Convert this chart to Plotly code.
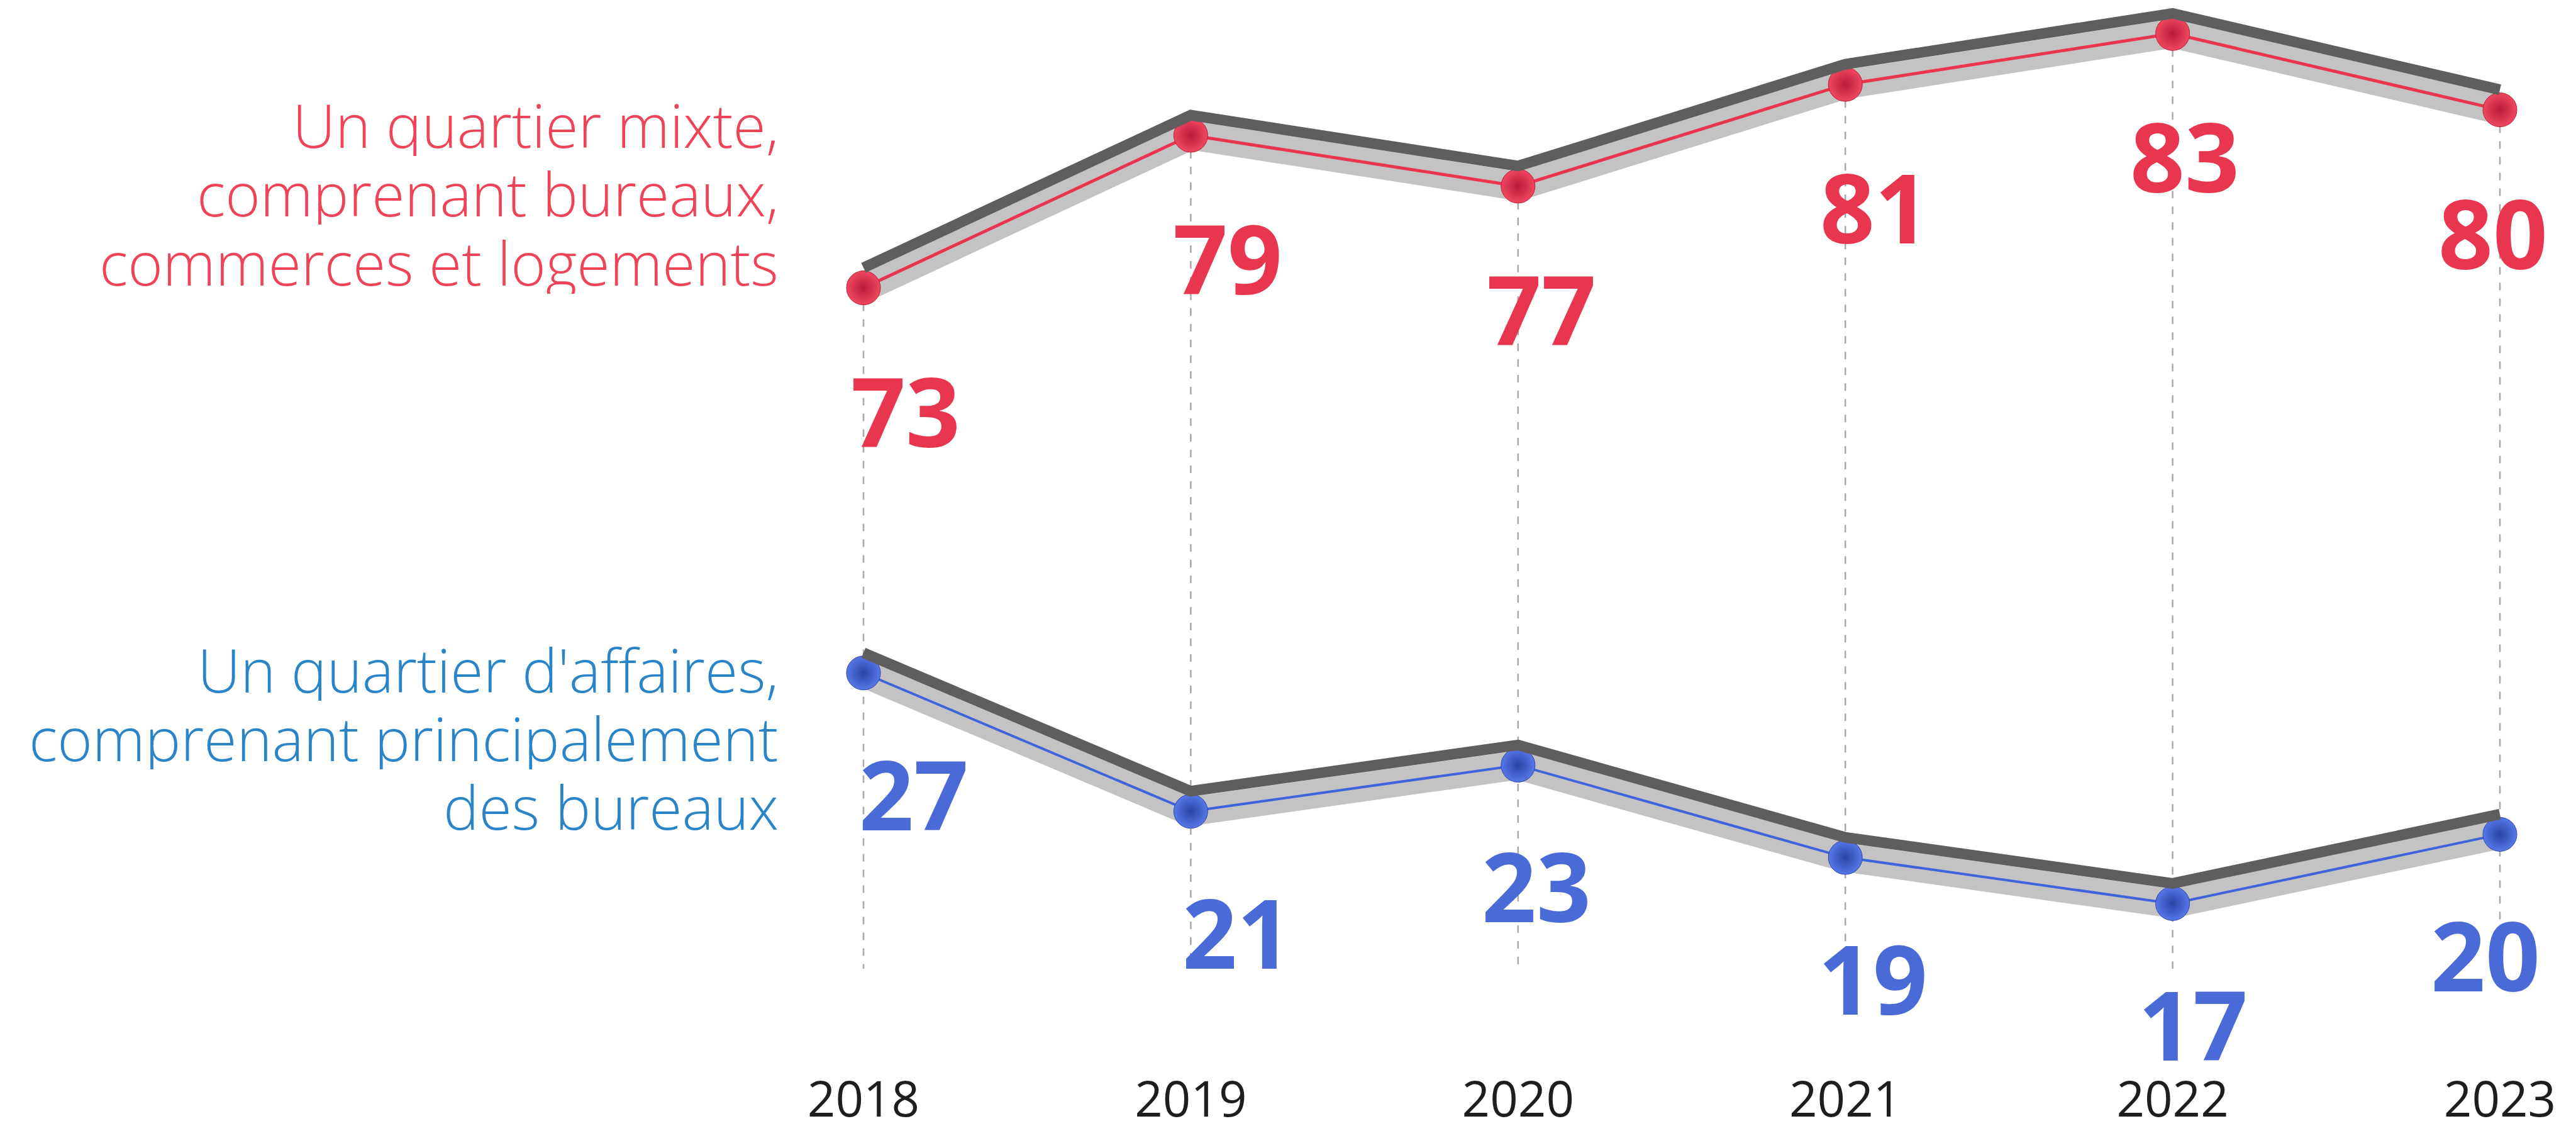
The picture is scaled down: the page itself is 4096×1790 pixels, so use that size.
import plotly.graph_objects as go

# ---------------- data ----------------
years = [2018, 2019, 2020, 2021, 2022, 2023]
year_labels = ["2018", "2019", "2020", "2021", "2022", "2023"]
mixte = [73, 79, 77, 81, 83, 80]
affaires = [27, 21, 23, 19, 17, 20]
label_mixte = ["Un quartier mixte,", "comprenant bureaux,", "commerces et logements"]
label_affaires = ["Un quartier d'affaires,", "comprenant principalement", "des bureaux"]

# ---------------- layout constants ----------------
W, H = 4096, 1790
PLOT_BOTTOM_PX = 1688          # bottom of plotting area (pixels from top)
X_2018_PX, X_STEP_PX = 1365, 520.4

RED_ANCHOR = (80, 166.6, 40.43)     # value, pixel row, pixels per unit
BLUE_ANCHOR = (20, 1318.4, 36.66)
DARK_SHIFT_PX = 32                  # dark top edge of the ribbon, drawn higher
DASH_FLOOR_PX = 1532

RED_TXT = "#EF4458"
BLUE_TXT = "#2A85C8"
RED_NUM = "#E8364F"
BLUE_NUM = "#4A6AD8"
RIB_LIGHT = "#C3C3C3"
RIB_DARK = "#5E5E5E"
FONT = "Open Sans"
NUM_SIZE = 152
LABEL_SIZE = 95

red_num_xshift = [-22, -30, -52, -42, -70, -100]
blue_num_xshift = [-9, -15, -60, -45, -57, -112]
NUM_YSHIFT_RED = -194
NUM_YSHIFT_BLUE = -191


def y_range(anchor, shift_px=0):
    v, px, s = anchor
    px_eff = px - shift_px
    return [v - (PLOT_BOTTOM_PX - px_eff) / s, v + px_eff / s]


def val_at(anchor, px):
    v, p, s = anchor
    return v - (px - p) / s


x_lo = years[0] - X_2018_PX / X_STEP_PX
x_hi = years[0] + (W - X_2018_PX) / X_STEP_PX

fig = go.Figure()

# dashed guides (red value down to floor), drawn on red axis
floor_v = val_at(RED_ANCHOR, DASH_FLOOR_PX)
gx, gy = [], []
for yr, v in zip(years, mixte):
    gx += [yr, yr, None]
    gy += [v, floor_v, None]
fig.add_trace(go.Scatter(x=gx, y=gy, mode="lines", yaxis="y",
                         line=dict(color="#A9A9A9", width=2.5, dash="12px,13px"),
                         hoverinfo="skip", showlegend=False))


def ribbon(vals, main_axis, dark_axis, line_color, m_center, m_edge, line_w):
    fig.add_trace(go.Scatter(x=years, y=vals, mode="lines", yaxis=dark_axis,
                             line=dict(color=RIB_DARK, width=17),
                             hoverinfo="skip", showlegend=False))
    fig.add_trace(go.Scatter(x=years, y=vals, mode="lines", yaxis=main_axis,
                             line=dict(color=RIB_LIGHT, width=46),
                             hoverinfo="skip", showlegend=False))
    fig.add_trace(go.Scatter(x=years, y=vals, mode="lines", yaxis=main_axis,
                             line=dict(color=line_color, width=line_w),
                             hoverinfo="skip", showlegend=False))
    fig.add_trace(go.Scatter(x=years, y=vals, mode="markers", yaxis=main_axis,
                             marker=dict(size=54, color=m_center,
                                         gradient=dict(type="radial", color=m_edge),
                                         line=dict(width=1, color=m_edge)),
                             hoverinfo="skip", showlegend=False))


ribbon(mixte, "y", "y2", "#EA3550", "#F04760", "#B71C36", 5)
ribbon(affaires, "y3", "y4", "#3F63DA", "#5677E8", "#2A44A6", 4)

annotations = []
for i, (yr, v) in enumerate(zip(years, mixte)):
    annotations.append(dict(x=yr, y=v, xref="x", yref="y", text=str(v), showarrow=False,
                            xanchor="left", yanchor="middle", height=120,
                            xshift=red_num_xshift[i], yshift=NUM_YSHIFT_RED,
                            font=dict(family=FONT, size=NUM_SIZE, color=RED_NUM, weight=700)))
for i, (yr, v) in enumerate(zip(years, affaires)):
    annotations.append(dict(x=yr, y=v, xref="x", yref="y3", text=str(v), showarrow=False,
                            xanchor="left", yanchor="middle", height=120,
                            xshift=blue_num_xshift[i], yshift=NUM_YSHIFT_BLUE,
                            font=dict(family=FONT, size=NUM_SIZE, color=BLUE_NUM, weight=700)))

LABEL_RIGHT_PX = 1232
mixte_line_px = [190, 299, 409]
aff_line_px = [1056, 1165, 1274]
for txt, py in zip(label_mixte, mixte_line_px):
    annotations.append(dict(x=LABEL_RIGHT_PX / W, y=1 - py / H, xref="paper", yref="paper",
                            text=txt, showarrow=False, xanchor="right", yanchor="middle",
                            height=100,
                            font=dict(family=FONT, size=LABEL_SIZE, color=RED_TXT, weight=300)))
for txt, py in zip(label_affaires, aff_line_px):
    annotations.append(dict(x=LABEL_RIGHT_PX / W, y=1 - py / H, xref="paper", yref="paper",
                            text=txt, showarrow=False, xanchor="right", yanchor="middle",
                            height=100,
                            font=dict(family=FONT, size=LABEL_SIZE, color=BLUE_TXT, weight=300)))

ydom = [1 - PLOT_BOTTOM_PX / H, 1]
hidden = dict(visible=False, fixedrange=True, showgrid=False, zeroline=False)
fig.update_layout(
    width=W, height=H,
    margin=dict(l=0, r=0, t=0, b=0, pad=0, autoexpand=False),
    paper_bgcolor="white", plot_bgcolor="white",
    showlegend=False,
    xaxis=dict(range=[x_lo, x_hi], domain=[0, 1], anchor="y",
               tickvals=years, ticktext=year_labels, showgrid=False, zeroline=False,
               showline=False, ticks="",
               tickfont=dict(family=FONT, size=78, color="#1E1E1E", weight=400),
               ticklabelstandoff=0),
    yaxis=dict(range=y_range(RED_ANCHOR), domain=ydom, **hidden),
    yaxis2=dict(range=y_range(RED_ANCHOR, DARK_SHIFT_PX), overlaying="y", **hidden),
    yaxis3=dict(range=y_range(BLUE_ANCHOR), overlaying="y", **hidden),
    yaxis4=dict(range=y_range(BLUE_ANCHOR, DARK_SHIFT_PX), overlaying="y", **hidden),
    annotations=annotations,
)

fig.write_html("out.html")
